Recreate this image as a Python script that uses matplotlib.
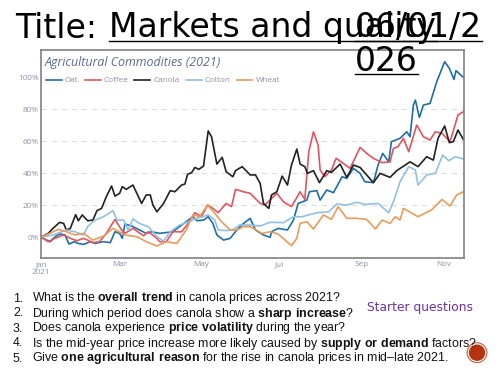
import matplotlib
matplotlib.use("Agg")
import matplotlib.pyplot as plt
from matplotlib.patches import Circle

plt.rcParams['mathtext.fontset'] = 'custom'
plt.rcParams['mathtext.rm'] = 'Liberation Sans'
plt.rcParams['mathtext.bf'] = 'Liberation Sans:bold'

# days since 1 Jan 2021 and % change
oat_days = [0,4,7,10.5,14,18,21,25,28,32,37,40.5,47,52,55.5,59,61,63,68,74,79,83,89,99,104,109,114,117,122,125.5,129,132,137,142,147,152,157,161,167,172,173,178,185,189.5,193,199.5,201.5,207,209.5,214.5,219.5,226,229.5,234.5,239.5,243,249.5,253,256.5,261,263,269.5,274.5,277,279.5,281,284,287,292,297,303,306.5,310,311.5,317]
oat = [0,-1.9,-2.9,0.2,1.9,1.3,-4.4,-2.9,-4,-4.6,-2.9,-4,-2.9,-3.5,3.3,2.3,-0.8,8.1,6.9,4.4,2.3,3.3,2.3,3.3,6.5,9.6,12.7,10.2,10.6,12.7,8.5,1.3,-1.9,-0.8,4.4,8.5,11.7,4.4,1.3,-0.2,3.3,5.4,4.4,10.6,21,23.1,28.3,29,23.1,29.4,27.7,37.7,36.7,42.9,39.8,34.6,34,45,52.3,47,59.6,61.7,65.8,62.7,82.5,85.6,74.8,82.5,83.5,97,109.6,105.4,98.5,104,99.8]

coffee_days = [0,5.5,10.5,17,22,27,32,39,44,49,55.5,60.5,63,69,77,80.5,87,89,94,99,105.5,110.5,115.5,120.5,125,129,133,139,143,146,152,157,164.5,168,177,182,188,194.5,198,201,204.5,208,209.5,213,218,221.5,227,232,239.5,244.5,249.5,256,262,264.5,268,272,276,282,287,292,296,301,307,313,317]
coffee = [0,-2.9,-0.8,1.3,-0.8,-2.3,-0.8,-3.5,-2.9,2.3,11,4.4,2.3,5.4,0.8,3.3,-0.8,-2.9,-2.9,3.3,3.3,8.5,15.2,12.7,20,17.9,15.2,21,19,29.8,28.3,27.3,21,20,27.3,22,19,28.3,23.5,53.3,65.8,57.5,41.9,37.7,41.9,49.2,46,42.9,56,52.3,49.2,46.5,47,55.4,56.5,61.7,53.3,70,62.7,60.6,65.8,64.8,59.6,76.3,78.3]

canola_days = [0,5.5,9,14,17,19,22,26,28,31,35,39,42,45.5,49,53,55.5,59,61,64,69,75.5,79,82,84,87,92,97,100.5,105.5,108,110,113,115.5,118.5,122,125.5,128,132,136,139,144,146,151,157,161,164.5,167,171,173,177,181,185,188,192,194.5,198,200,204.5,209,214.5,218,224.5,229.5,234.5,239.5,249.5,254.5,262,267,277,283,289.5,294.5,298,303,306.5,309.5,313,317]
canola = [0,2.3,5.4,9.2,8.5,4.4,5.4,14,10.2,13.8,10.2,10.6,16.5,17.9,25.2,31.9,25.6,27.3,31.5,29.8,32.5,21,26.3,26.3,20,15.8,21,29,28.3,32.5,33.1,39.2,40.2,43.5,42.3,44.4,66.3,62.7,45.6,49.8,40.8,37.7,41.5,44,38.8,38.8,33.5,21,17.9,26.3,28.3,38.1,32.5,45,55,45.6,44,39.8,41.5,34,41.5,40.4,45.6,37.3,45,43.5,34,39.8,37.3,41.5,47,44,50.2,48.1,61.7,69.4,59,59.6,66.9,61]

cotton_days = [0,9,19,25.5,32,35,40.5,47,54,57,62,65.5,69,74,80.5,87,92,97,104,109,117,125.5,130.5,133,139,144,149,157,164.5,172,182,189.5,196,207,216,222,229.5,237,243,253,261,265,269.5,276,281,283,289.5,296,301.5,306,311,317]
cotton = [0,1.3,4.4,3.3,1.3,6.5,10.6,12.7,16.5,10.6,10.6,4.4,11.3,8.5,6.5,0.2,-2.5,3.3,7.5,9,11.7,13.8,10.6,4.4,4,4.4,7.5,7.5,6.9,9.2,9,12.7,12.7,15.2,15.8,20.6,20,21.7,20.4,21,15.2,23.1,34.6,44,41.9,32.5,38.8,39.8,51.3,47.7,50.2,48.8]

wheat_days = [0,5.5,13,19,25.5,32,39,47,54,63,72,79,87,94,102,109,114,119,125,130.5,135.5,142,147,152,157,166,172,178,188,192,194.5,199.5,204.5,212,218,223,229.5,237,244.5,251,256,262,266,269.5,272,283,293,301,307,312,317]
wheat = [0,1.9,4.8,3.3,1.3,2.3,-1.9,0.6,5.4,1.3,0.2,-2.9,-5.6,-2.9,-4,4.4,13.8,12.7,20,14.8,9.6,4.4,4.4,6.5,6.5,2.3,3.3,1.9,-5.4,-0.8,8.5,9.6,5,13.8,11,19,11.7,11.7,11,5,10.6,8.5,12.7,10.6,17.9,12.7,16.9,23.5,19.4,26.3,28.3]

month_days = [0, 59, 120, 179, 241, 302]
month_labels = ['Jan\n2021', 'Mar', 'May', 'Jul', 'Sep', 'Nov']
pct_ticks = [0, 20, 40, 60, 80, 100]

questions = [
    r'What is the $\mathbf{overall\ trend}$ in canola prices across 2021?',
    r'During which period does canola show a $\mathbf{sharp\ increase}$?',
    r'Does canola experience $\mathbf{price\ volatility}$ during the year?',
    r'Is the mid-year price increase more likely caused by $\mathbf{supply\ or\ demand}$ factors?',
    r'Give $\mathbf{one\ agricultural\ reason}$ for the rise in canola prices in mid–late 2021.',
]

grey = '#8b91a3'

fig = plt.figure(figsize=(5, 3.75), dpi=100)

# slide layer in pixel coordinates, sits above the chart
slide = fig.add_axes([0, 0, 1, 1])
slide.set_xlim(0, 500)
slide.set_ylim(375, 0)
slide.axis('off')
slide.set_zorder(5)

slide.text(15, 37.5, 'Title: ', fontsize=23.8, family='DejaVu Sans', va='baseline')
slide.text(109, 37.5, 'Markets and quality', fontsize=23.8, family='DejaVu Sans', va='baseline')
slide.plot([109, 437], [41, 41], color='black', lw=1)
slide.text(355, 37.5, '06/01/2', fontsize=23.8, family='DejaVu Sans', va='baseline')
slide.text(355, 71, '026', fontsize=23.8, family='DejaVu Sans', va='baseline')
slide.plot([355, 482], [41, 41], color='black', lw=1)
slide.plot([355, 418], [74, 74], color='black', lw=1)

for i, q in enumerate(questions):
    y = 301.5 + i * 15
    slide.text(13, y, f'{i + 1}.', fontsize=8.9, family='Liberation Sans', color='#111111', va='baseline')
    slide.text(31.5, y, q, fontsize=8.9, family='Liberation Sans', color='#111111', va='baseline')

slide.text(367, 310.5, 'Starter questions', fontsize=8.8, family='DejaVu Sans', color='#7030a0', va='baseline')

slide.add_patch(Circle((477, 352.7), 10.5, fc='#c9694e', ec='none'))
slide.add_patch(Circle((477, 352.7), 9.3, fc='white', ec='none'))
slide.add_patch(Circle((477, 352.7), 8.2, fc='#b5340f', ec='none'))

# chart
ax = fig.add_axes([41 / 500, 1 - 258 / 375, 423 / 500, 208 / 375])
ax.plot(oat_days, oat, color='#1f6fa5', lw=1.2, label='Oat')
ax.plot(coffee_days, coffee, color='#e0555f', lw=1.2, label='Coffee')
ax.plot(canola_days, canola, color='#222222', lw=1.2, label='Canola')
ax.plot(cotton_days, cotton, color='#92c0e4', lw=1.2, label='Cotton')
ax.plot(wheat_days, wheat, color='#e89c58', lw=1.2, label='Wheat')

ax.set_xlim(0, 317.5)
ax.set_ylim(-13.1, 116.9)
ax.set_xticks(month_days)
ax.set_xticklabels(month_labels, fontsize=5.9, family='Open Sans', color=grey)
ax.set_yticks(pct_ticks)
ax.set_yticklabels([f'{p}%' for p in pct_ticks], fontsize=5.9, family='Open Sans', color=grey)
ax.tick_params(length=0, pad=2)
ax.tick_params(axis='y', pad=1.5)
ax.grid(axis='y', color='#dddddd', lw=0.8, ls=(0, (5, 4)))
ax.set_axisbelow(True)
ax.yaxis.get_gridlines()[0].set_visible(False)
ax.yaxis.get_gridlines()[-1].set_visible(False)
for s in ax.spines.values():
    s.set_color('#808080')
    s.set_linewidth(1.2)

ax.text(0.009, 0.925, 'Agricultural Commodities (2021)', fontsize=8.9,
        family='Open Sans', style='italic', color='#5d6c8c', va='baseline', transform=ax.transAxes)

leg = ax.legend(loc='upper left', bbox_to_anchor=(0.0, 0.895), ncol=5, frameon=False,
                prop={'family': 'Open Sans', 'size': 5.9}, handlelength=1.95,
                handletextpad=0.37, columnspacing=0.73, borderaxespad=0.4, borderpad=0.2)
for t in leg.get_texts():
    t.set_color(grey)

fig.savefig('out.png', dpi=100)
